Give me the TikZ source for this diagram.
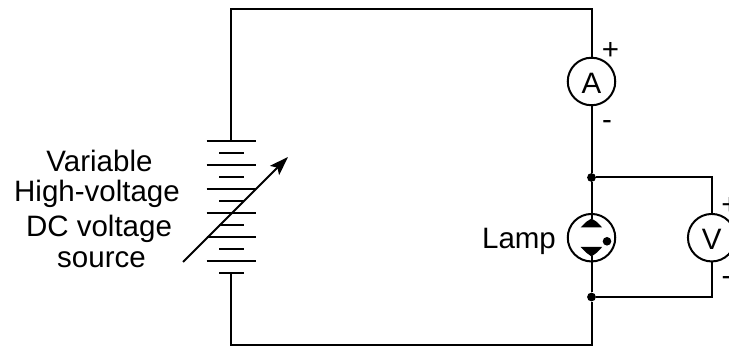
\documentclass[tikz,border=0pt]{standalone}
\usepackage{fontspec}
\setmainfont{Liberation Sans}
\usetikzlibrary{arrows.meta}
\tikzset{
  x=1pt,y=-1pt,
  wire/.style={line width=2pt,line cap=butt,line join=miter},
  meter/.style={circle,draw,line width=2pt,minimum size=47.5pt,inner sep=0pt},
  lbl/.style={font=\fontsize{29.5}{29.5}\selectfont,inner sep=0pt,anchor=base},
  dotn/.style={circle,fill=black,inner sep=0pt,minimum size=8.8pt},
  plate/.style={line width=2pt}
}
\begin{document}
\begin{tikzpicture}
\useasboundingbox (0,0) rectangle (729,347);
\node[meter] (A) at (591.5,81.5) {};
\node[meter] (L) at (591.5,237.7) {};
\node[meter] (V) at (711.7,237.7) {};
\node[dotn] (n1) at (591.5,177.5) {};
\node[dotn] (n2) at (591.5,297) {};
\coordinate (bt) at (231,141.3);
\coordinate (bb) at (231,273.3);
\coordinate (tl) at (231,9.5);
\coordinate (tr) at (591.5,9.5);
\coordinate (bl) at (231,345.3);
\coordinate (br) at (591.5,345.3);
\coordinate (vt) at (711.7,177.5);
\coordinate (vb) at (711.7,297);
\coordinate (ua) at (591.5,219);
\coordinate (la) at (591.5,256);
\draw[wire] (bt) -- (tl) -- (tr) -- (A);
\draw[wire] (A) -- (n1) -- (ua);
\draw[wire] (la) -- (n2) -- (br) -- (bl) -- (bb);
\draw[wire] (n1) -- (vt) -- (V);
\draw[wire] (V) -- (vb) -- (n2);
\foreach \y in {141.3,165.3,189.3,213.3,237.3,261.3}
  \draw[plate] (206.5,\y) -- (256,\y);
\foreach \y in {153.3,177.3,201.3,225.3,249.3,273.3}
  \draw[plate] (219,\y) -- (244,\y);
\fill (580.7,227.5) -- (586,222) -- (591.5,218.5) -- (597,222) -- (602.2,227.5) -- cycle;
\fill (580.7,247) -- (586,252.5) -- (591.5,256.5) -- (597,252.5) -- (602.2,247) -- cycle;
\node[circle,fill=black,inner sep=0pt,minimum size=8.6pt] (fil) at (607,241.3) {};
\coordinate (as) at (183,262);
\coordinate (ae) at (288,157);
\draw[line width=1.8pt,-{Stealth[length=19pt,width=13pt,inset=4pt]}] (as) -- (ae);
\node[lbl] (t1) at (99.5,171.7) {Variable};
\node[lbl] (t2) at (97,201.7) {High-voltage};
\node[lbl] (t3) at (99,237) {DC voltage};
\node[lbl] (t4) at (101.5,268) {source};
\node[lbl] (t5) at (519,249) {Lamp};
\node[lbl] (ta) at (591.5,94) {A};
\node[lbl] (tv) at (711.7,250) {V};
\node[lbl] (p1) at (610.5,60) {+};
\node[lbl] (m1) at (607,130) {-};
\node[lbl] (p2) at (730,215) {+};
\node[lbl] (m2) at (726.5,286) {-};
\end{tikzpicture}
\end{document}
